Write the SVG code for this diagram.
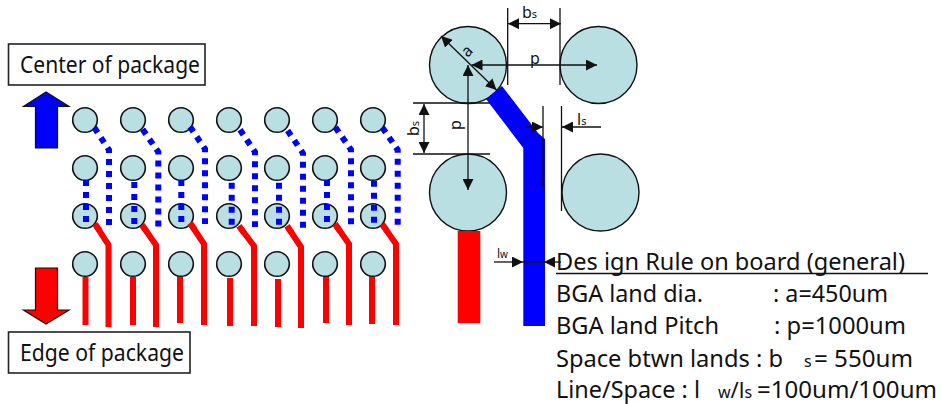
<svg xmlns="http://www.w3.org/2000/svg" width="941" height="404" viewBox="0 0 941 404">
<style>
text{font-family:"Noto Sans","Open Sans","Liberation Sans",sans-serif;fill:#111}
.t{font-size:24px}.d{font-size:16px}.s{font-size:11px}
.land{fill:#b9dfe2;stroke:#111;stroke-width:1.6}
.lg{fill:#b9dfe2;stroke:#111;stroke-width:1.4}
.dot{fill:none;stroke:#00f;stroke-width:6;stroke-dasharray:6 6}
.red{fill:none;stroke:#f00;stroke-width:6}
.dim{fill:none;stroke:#111;stroke-width:1.3}
.box{fill:#fff;stroke:#222;stroke-width:1.6}
</style>
<defs>
<marker id="ah" viewBox="0 0 10 10" refX="10" refY="5" markerWidth="11" markerHeight="11" markerUnits="userSpaceOnUse" orient="auto-start-reverse"><path d="M0 0L10 5L0 10Z" fill="#111"/></marker>
<circle id="l" r="12.3" class="land"/>
</defs>
<g id="connectors">
<g id="red-traces">
<path class="red" d="M95 224L108.500 245V327"/><path class="red" d="M142 225L156 245V327"/><path class="red" d="M190 223L204 244V325"/><path class="red" d="M239 226L254 246V326"/><path class="red" d="M287 226L301 247V328"/><path class="red" d="M335 224L349 244V325"/><path class="red" d="M382 224L396 244V325"/>
<path class="red" d="M85.500 277V325"/><path class="red" d="M133 277V325"/><path class="red" d="M180 275V323"/><path class="red" d="M230 278V326"/><path class="red" d="M278 279V327"/><path class="red" d="M326 276V323"/><path class="red" d="M372 276V324"/>
</g>
</g>
<g id="lands">
<use href="#l" x="85" y="120"/><use href="#l" x="133" y="120"/><use href="#l" x="181" y="120"/><use href="#l" x="229" y="120"/><use href="#l" x="277" y="120"/><use href="#l" x="325" y="120"/><use href="#l" x="373" y="120"/>
<use href="#l" x="85" y="168"/><use href="#l" x="133" y="168"/><use href="#l" x="181" y="168"/><use href="#l" x="229" y="168"/><use href="#l" x="277" y="168"/><use href="#l" x="325" y="168"/><use href="#l" x="373" y="168"/>
<use href="#l" x="85" y="216"/><use href="#l" x="133" y="216"/><use href="#l" x="181" y="216"/><use href="#l" x="229" y="216"/><use href="#l" x="277" y="216"/><use href="#l" x="325" y="216"/><use href="#l" x="373" y="216"/>
<use href="#l" x="85" y="264"/><use href="#l" x="133" y="264"/><use href="#l" x="181" y="264"/><use href="#l" x="229" y="264"/><use href="#l" x="277" y="264"/><use href="#l" x="325" y="264"/><use href="#l" x="373" y="264"/>
</g>
<g id="traces-over-lands">
<path class="dot" d="M94.300 127.500L109 150V225"/><path class="dot" d="M142.600 129.300L158.300 152V228"/><path class="dot" d="M190 126.800L205 149V224"/><path class="dot" d="M240 129.800L255 152V227"/><path class="dot" d="M287.600 130.500L303 153.300V229"/><path class="dot" d="M335.300 127.200L351 149.700V225"/><path class="dot" d="M382.300 127.500L397.700 150V225"/>
<path class="dot" d="M86 180V222"/><path class="dot" d="M134.300 182V224"/><path class="dot" d="M181.300 180V222"/><path class="dot" d="M231.700 182.700V224.700"/><path class="dot" d="M279 182.700V224.700"/><path class="dot" d="M327 180V222"/><path class="dot" d="M374 180.700V222.700"/>
<path class="red" d="M95 224L100 231"/><path class="red" d="M142 225L147 232"/><path class="red" d="M190 223L195 230"/><path class="red" d="M239 226L244 233"/><path class="red" d="M287 226L292 233"/><path class="red" d="M335 224L340 231"/><path class="red" d="M382 224L387 231"/>
</g>
<g id="center-label"><rect class="box" x="8.500" y="44" width="196.500" height="41"/><text x="20" y="73" class="t" textLength="180" lengthAdjust="spacingAndGlyphs">Center of package</text></g>
<g id="center-arrow"><path d="M46 92L23.500 106.500H35.500V148H57.500V106.500H69Z" fill="#00f" stroke="#111" stroke-width="1.2"/></g>
<g id="edge-arrow"><path d="M35.500 268H57.500V310H69L46 324L23.500 310H35.500Z" fill="#f00" stroke="#111" stroke-width="1.2"/></g>
<g id="edge-label"><rect class="box" x="8.500" y="332" width="181.500" height="41"/><text x="20" y="361" class="t" textLength="164" lengthAdjust="spacingAndGlyphs">Edge of package</text></g>
<g id="large-lands">
<circle class="lg" cx="468" cy="65" r="38.500"/><circle class="lg" cx="598.500" cy="65" r="38.500"/><circle class="lg" cx="468" cy="192.500" r="38.500"/><circle class="lg" cx="600.500" cy="192.500" r="38.500"/>
</g>
<g id="large-traces">
<path d="M502 86L486 99L523.300 148V326H545V139L538 133Z" fill="#00f"/>
<rect x="457.700" y="231" width="22.600" height="92" fill="#f00"/>
</g>
<g id="dimensions">
<path class="dim" d="M507.700 8V85M560 8V85M413 103H490M413 154H490M543 106V187M561.500 106V211"/>
<path class="dim" marker-start="url(#ah)" marker-end="url(#ah)" d="M508 23.700H561"/>
<path class="dim" marker-start="url(#ah)" marker-end="url(#ah)" d="M471.500 65H597"/>
<path class="dim" marker-start="url(#ah)" marker-end="url(#ah)" d="M441 36L496.500 90"/>
<path class="dim" marker-start="url(#ah)" marker-end="url(#ah)" d="M468 65V190"/>
<path class="dim" marker-start="url(#ah)" marker-end="url(#ah)" d="M424 104V153"/>
<path class="dim" marker-end="url(#ah)" d="M526 127H543"/>
<path class="dim" marker-end="url(#ah)" d="M601 127H562"/>
<path class="dim" marker-end="url(#ah)" d="M494 262H523"/>
<path class="dim" marker-end="url(#ah)" d="M561 262H544"/>
<path class="dim" d="M523 262H545"/>
</g>
<g id="dimension-labels">
<text x="522" y="18" class="d">b<tspan class="s">s</tspan></text>
<text x="530" y="64" class="d">p</text>
<text class="d" transform="translate(467.500,58) rotate(-45)">a</text>
<text class="d" transform="translate(419,136) rotate(-90)">b<tspan class="s">s</tspan></text>
<text class="d" transform="translate(461,130) rotate(-90)">p</text>
<text x="577" y="125" class="d">l<tspan class="s">s</tspan></text>
<text x="497" y="258" style="font-size:12px">l<tspan style="font-size:10px">w</tspan></text>
</g>
<g id="design-rule">
<text x="556" y="270" class="t" textLength="349" lengthAdjust="spacingAndGlyphs">Des ign Rule on board (general)</text>
<path d="M556 273.500H928" stroke="#111" stroke-width="1.6"/>
<text x="556" y="302" class="t" textLength="147" lengthAdjust="spacingAndGlyphs">BGA land dia.</text>
<text x="773" y="302" class="t" textLength="115" lengthAdjust="spacingAndGlyphs">: a=450um</text>
<text x="556" y="334" class="t" textLength="163" lengthAdjust="spacingAndGlyphs">BGA land Pitch</text>
<text x="774" y="334" class="t" textLength="132" lengthAdjust="spacingAndGlyphs">: p=1000um</text>
<text x="556" y="367" class="t" textLength="227" lengthAdjust="spacingAndGlyphs">Space btwn lands : b</text>
<text x="804" y="367" style="font-size:16px">s</text>
<text x="814" y="367" class="t" textLength="99" lengthAdjust="spacingAndGlyphs">= 550um</text>
<text x="556" y="397.500" style="font-size:23px" textLength="144" lengthAdjust="spacingAndGlyphs">Line/Space : l</text>
<text x="718" y="397.500" style="font-size:16px">w<tspan style="font-size:22px">/l</tspan>s</text>
<text x="757" y="397.500" style="font-size:23px" textLength="180" lengthAdjust="spacingAndGlyphs">=100um/100um</text>
</g>
</svg>
